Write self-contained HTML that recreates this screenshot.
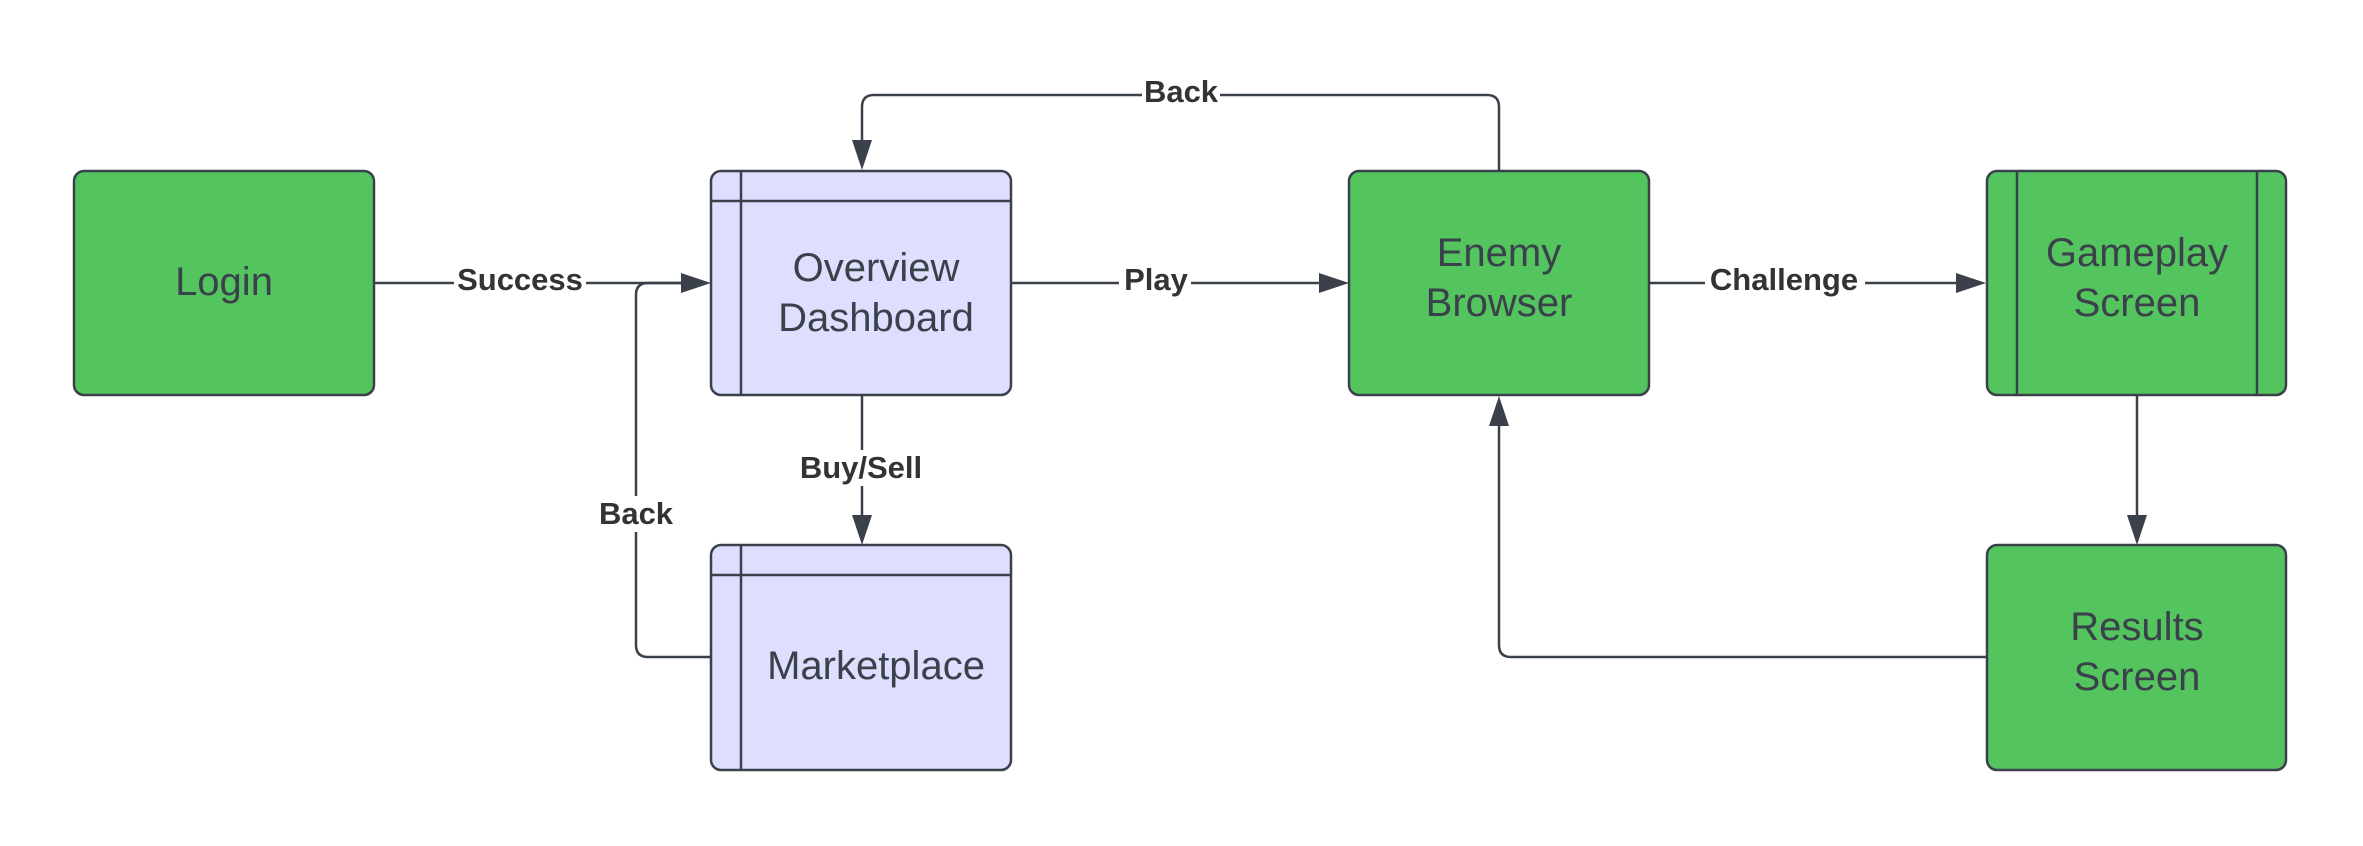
<!DOCTYPE html>
<html><head><meta charset="utf-8"><style>
html,body{margin:0;padding:0;background:#fff;}
svg{display:block;}
text{font-family:"Liberation Sans",sans-serif;}
.n{font-size:40px;fill:#3a414a;text-anchor:middle;}
.l{font-size:31px;font-weight:bold;fill:#333;text-anchor:middle;}
</style></head><body>
<svg width="2363" height="846" viewBox="0 0 2363 846" xmlns="http://www.w3.org/2000/svg">
<rect width="2363" height="846" fill="#fff"/>
<g stroke="#3a414a" stroke-width="2.5" fill="none">
<!-- connectors -->
<path d="M374 283 H683"/>
<path d="M711 657 H648 Q636 657 636 645 V295 Q636 283 648 283 H683"/>
<path d="M862 395 V517"/>
<path d="M1011 283 H1321"/>
<path d="M1649 283 H1958"/>
<path d="M1499 170 V107 Q1499 95 1487 95 H874 Q862 95 862 107 V142"/>
<path d="M2137 395 V517"/>
<path d="M1986 657 H1511 Q1499 657 1499 645 V424"/>
</g>
<g fill="#3a414a">
<polygon points="711,283 681,273 681,293"/>
<polygon points="1349,283 1319,273 1319,293"/>
<polygon points="1986,283 1956,273 1956,293"/>
<polygon points="862,170 852,140 872,140"/>
<polygon points="862,545 852,515 872,515"/>
<polygon points="2137,545 2127,515 2147,515"/>
<polygon points="1499,396 1489,426 1509,426"/>
</g>
<!-- labels with white backgrounds -->
<g fill="#fff">
<rect x="454" y="262" width="132" height="36"/>
<rect x="1119" y="262" width="72" height="36"/>
<rect x="1705" y="262" width="160" height="36"/>
<rect x="1142" y="74" width="78" height="36"/>
<rect x="794" y="450" width="136" height="36"/>
<rect x="594" y="496" width="84" height="36"/>
</g>
<text class="l" x="520" y="290">Success</text>
<text class="l" x="1156" y="290">Play</text>
<text class="l" x="1784" y="290">Challenge</text>
<text class="l" x="1181" y="102">Back</text>
<text class="l" x="861" y="478">Buy/Sell</text>
<text class="l" x="636" y="524">Back</text>
<!-- nodes -->
<g stroke="#3a414a" stroke-width="2.5">
<rect x="74" y="171" width="300" height="224" rx="10" fill="#54c45e"/>
<rect x="711" y="171" width="300" height="224" rx="10" fill="#dedfff"/>
<rect x="711" y="545" width="300" height="225" rx="10" fill="#dedfff"/>
<rect x="1349" y="171" width="300" height="224" rx="10" fill="#54c45e"/>
<rect x="1987" y="171" width="299" height="224" rx="10" fill="#54c45e"/>
<rect x="1987" y="545" width="299" height="225" rx="10" fill="#54c45e"/>
<path d="M711 201 H1011 M741 171 V395" fill="none"/>
<path d="M711 575 H1011 M741 545 V770" fill="none"/>
<path d="M2017 171 V395 M2257 171 V395" fill="none"/>
</g>
<text class="n" x="224" y="295">Login</text>
<text class="n" x="876" y="281">Overview</text>
<text class="n" x="876" y="331">Dashboard</text>
<text class="n" x="876" y="679">Marketplace</text>
<text class="n" x="1499" y="266">Enemy</text>
<text class="n" x="1499" y="316">Browser</text>
<text class="n" x="2137" y="266">Gameplay</text>
<text class="n" x="2137" y="316">Screen</text>
<text class="n" x="2137" y="640">Results</text>
<text class="n" x="2137" y="690">Screen</text>
</svg>
</body></html>
